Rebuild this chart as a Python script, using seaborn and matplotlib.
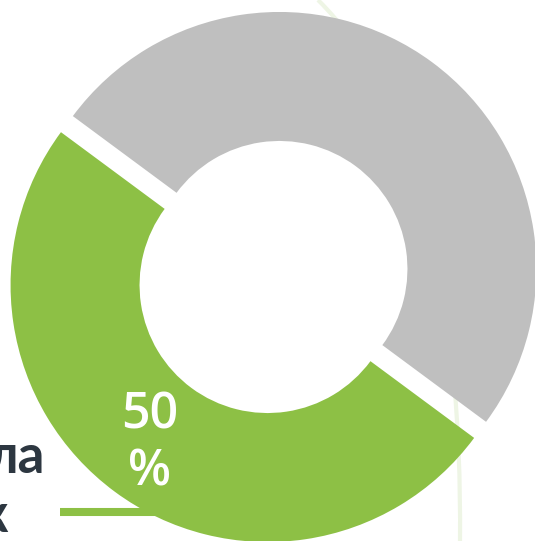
import matplotlib.pyplot as plt
import seaborn as sns
from matplotlib.path import Path
from matplotlib.patches import PathPatch

# data
shares = [50, 50]
slice_colors = ['#8DC045', '#BFBFBF']
slice_labels = ['50\n%', '']
side_text = ['ла', 'к']

sns.set_theme(style='white')
plt.rcParams['font.family'] = ['Lato', 'DejaVu Sans']

W, H = 535, 541
fig = plt.figure(figsize=(W / 100, H / 100), dpi=100)
ax = fig.add_axes([0, 0, 1, 1])

# faint decorative curve behind the donut
verts = [(318, H), (420, H - 100), (462, H - 300), (460, 0)]
curve = Path(verts, [Path.MOVETO, Path.CURVE4, Path.CURVE4, Path.CURVE4])
ax.add_patch(PathPatch(curve, facecolor='none', edgecolor='#EEF5E5', lw=3, zorder=0))

labels_iter = iter(slice_labels)
wedges, _, autotexts = ax.pie(
    shares, colors=slice_colors, startangle=143.5, counterclock=True,
    center=(273.5, H - 277), radius=257, explode=[10, 10],
    wedgeprops=dict(width=129, edgecolor='none'),
    autopct=lambda p: next(labels_iter), pctdistance=0.77,
    textprops=dict(color='white', fontsize=36, fontweight='semibold',
                   family=['Open Sans', 'DejaVu Sans']))
for t in autotexts:
    t.set_linespacing(1.2)

# pointer line and cut-off caption on the left
ax.plot([60, 170], [H - 512, H - 512], color=slice_colors[0], lw=5.8,
        solid_capstyle='butt', zorder=0.5)
ax.text(45, H - 473, side_text[0], ha='right', va='baseline', fontsize=38,
        fontweight='bold', color='#2D3741')
ax.text(8, H - 532, side_text[1], ha='right', va='baseline', fontsize=38,
        fontweight='bold', color='#2D3741')

ax.set_xlim(0, W)
ax.set_ylim(0, H)
ax.set_aspect('auto')
ax.axis('off')
fig.savefig('out.png', dpi=100)
